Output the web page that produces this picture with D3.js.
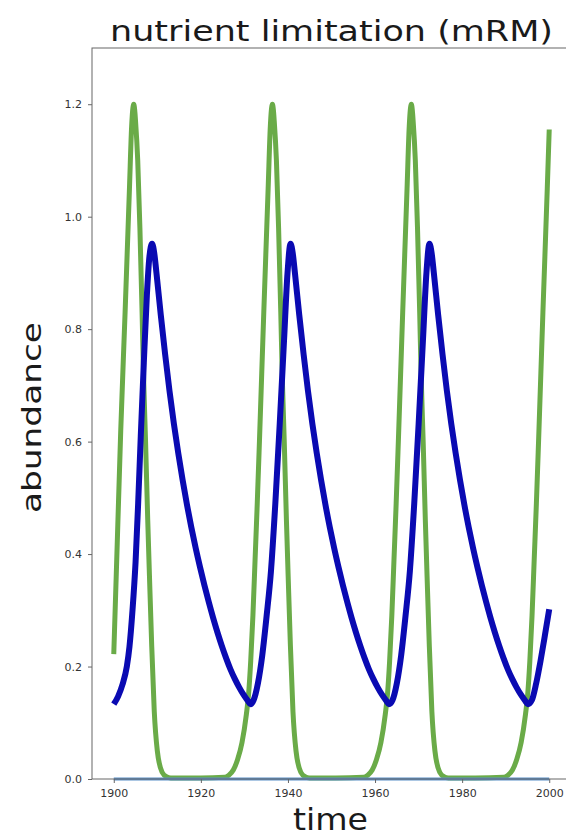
<!DOCTYPE html>
<html>
<head>
<meta charset="utf-8">
<script src="https://cdn.jsdelivr.net/npm/d3@7"></script>
<style>
  html, body { margin: 0; padding: 0; background: #fff; }
  svg { display: block; }
  text { font-family: "DejaVu Sans", sans-serif; }
</style>
</head>
<body>
<svg id="chart" width="566" height="838"></svg>
<script>
// Nutrient (green) and consumer (blue) abundance over time, mRM model run.
const nutrientYears = [
  1900.0, 1900.8, 1901.6, 1902.6, 1903.6, 1904.1, 1904.35, 1904.6, 1904.8, 1905.0, 1905.5, 1906.0,
  1906.5, 1906.9, 1907.3, 1907.8, 1908.2, 1908.7, 1909.3, 1910.0, 1911.1, 1912.1,
  1913.1, 1920.0,
  1925.45, 1926.45, 1927.45, 1928.45, 1929.45, 1930.45, 1930.95, 1931.45, 1931.95, 1932.45,
  1932.95, 1933.45, 1934.45, 1935.45, 1935.95, 1936.2, 1936.45, 1936.65, 1936.85, 1937.35, 1937.85, 1938.35,
  1938.75, 1939.15, 1939.65, 1940.05, 1940.55, 1941.15, 1941.85, 1942.95, 1943.95, 1944.95,
  1951.0,
  1957.35, 1958.35, 1959.35, 1960.35, 1961.35, 1962.35, 1962.85, 1963.35, 1963.85, 1964.35,
  1964.85, 1965.35, 1966.35, 1967.35, 1967.85, 1968.1, 1968.35, 1968.55, 1968.75, 1969.25, 1969.75, 1970.25,
  1970.65, 1971.05, 1971.55, 1971.95, 1972.45, 1973.05, 1973.75, 1974.85, 1975.85, 1976.85,
  1983.0,
  1989.55, 1990.55, 1991.55, 1992.55, 1993.55, 1994.55, 1995.05, 1995.55, 1996.05, 1996.55,
  1997.05, 1997.55, 1998.55, 1999.55, 2000.0
];
const nutrientValues = [
  0.222, 0.42, 0.62, 0.83, 1.05, 1.16, 1.19, 1.20, 1.19, 1.17, 1.10, 0.98,
  0.83, 0.70, 0.60, 0.46, 0.36, 0.24, 0.12, 0.05, 0.012, 0.004,
  0.002, 0.002,
  0.003, 0.007, 0.016, 0.035, 0.065, 0.115, 0.15, 0.21, 0.29, 0.39,
  0.49, 0.60, 0.83, 1.05, 1.16, 1.19, 1.20, 1.19, 1.17, 1.10, 0.98, 0.83,
  0.70, 0.60, 0.46, 0.36, 0.24, 0.12, 0.05, 0.012, 0.004, 0.002,
  0.002,
  0.003, 0.007, 0.016, 0.035, 0.065, 0.115, 0.15, 0.21, 0.29, 0.39,
  0.49, 0.60, 0.83, 1.05, 1.16, 1.19, 1.20, 1.19, 1.17, 1.10, 0.98, 0.83,
  0.70, 0.60, 0.46, 0.36, 0.24, 0.12, 0.05, 0.012, 0.004, 0.002,
  0.002,
  0.003, 0.007, 0.016, 0.035, 0.065, 0.115, 0.15, 0.21, 0.29, 0.39,
  0.49, 0.60, 0.83, 1.05, 1.155
];

const consumerYears = [
  1900.0, 1901.0, 1902.0, 1903.0, 1903.6, 1904.3, 1905.0, 1905.6, 1906.2, 1906.9,
  1907.6, 1908.2, 1908.8, 1909.3, 1909.8, 1910.8, 1911.8, 1912.8, 1913.8, 1914.8,
  1915.8, 1916.8, 1917.8, 1918.8, 1919.8, 1920.8, 1921.8, 1922.8, 1923.8, 1924.8,
  1925.8, 1926.8, 1927.8, 1928.8, 1929.8, 1930.8, 1931.4,
  1932.1, 1933.1, 1934.1, 1935.1, 1936.1, 1937.1, 1938.1, 1939.1, 1939.9, 1940.6,
  1941.1, 1941.6, 1942.6, 1943.6, 1944.6, 1945.6, 1946.6, 1947.6, 1948.6, 1949.6,
  1950.6, 1951.6, 1952.6, 1953.6, 1954.6, 1955.6, 1956.6, 1957.6, 1958.6, 1959.6,
  1960.6, 1961.6, 1962.6, 1963.2,
  1964.0, 1965.0, 1966.0, 1967.0, 1968.0, 1969.0, 1970.0, 1971.0, 1971.8, 1972.5,
  1973.0, 1973.5, 1974.5, 1975.5, 1976.5, 1977.5, 1978.5, 1979.5, 1980.5, 1981.5,
  1982.5, 1983.5, 1984.5, 1985.5, 1986.5, 1987.5, 1988.5, 1989.5, 1990.5, 1991.5,
  1992.5, 1993.5, 1994.5, 1995.1,
  1996.0, 1997.0, 1998.0, 1999.0, 2000.0
];
const consumerValues = [
  0.133, 0.147, 0.168, 0.20, 0.235, 0.30, 0.385, 0.49, 0.61, 0.74,
  0.86, 0.93, 0.952, 0.935, 0.90, 0.825, 0.755, 0.69, 0.632, 0.58,
  0.532, 0.488, 0.448, 0.411, 0.377, 0.345, 0.315, 0.287, 0.261, 0.237,
  0.215, 0.195, 0.178, 0.163, 0.150, 0.139, 0.133,
  0.14, 0.17, 0.22, 0.29, 0.37, 0.49, 0.63, 0.78, 0.90, 0.952,
  0.935, 0.90, 0.825, 0.755, 0.69, 0.632, 0.58, 0.532, 0.488, 0.448,
  0.411, 0.377, 0.345, 0.315, 0.287, 0.261, 0.237, 0.215, 0.195, 0.178,
  0.163, 0.150, 0.139, 0.133,
  0.14, 0.17, 0.22, 0.29, 0.37, 0.49, 0.63, 0.78, 0.90, 0.952,
  0.935, 0.90, 0.825, 0.755, 0.69, 0.632, 0.58, 0.532, 0.488, 0.448,
  0.411, 0.377, 0.345, 0.315, 0.287, 0.261, 0.237, 0.215, 0.195, 0.178,
  0.163, 0.150, 0.139, 0.133,
  0.14, 0.17, 0.21, 0.255, 0.302
];

// Third species stays extinct for the whole run.
const extinctYears = [1900, 2000];
const extinctValues = [0, 0];

const xTicks = [1900, 1920, 1940, 1960, 1980, 2000];
const yTicks = [0.0, 0.2, 0.4, 0.6, 0.8, 1.0, 1.2];

const titleText = "nutrient limitation (mRM)";
const xLabel = "time";
const yLabel = "abundance";

const svg = d3.select("#chart");
const plot = { left: 92, right: 571, top: 48, bottom: 779 };

const x = d3.scaleLinear().domain([1895, 2005]).range([plot.left, plot.right]);
const y = d3.scaleLinear().domain([0, 1.3]).range([plot.bottom, plot.top]);

const zip = (xs, ys) => xs.map((t, i) => ({ t, v: ys[i] }));

const line = d3.line()
  .x(d => x(d.t))
  .y(d => y(d.v))
  .curve(d3.curveMonotoneX);

const lines = svg.append("g");
lines.append("path")
  .datum(zip(nutrientYears, nutrientValues))
  .attr("d", line)
  .attr("fill", "none")
  .attr("stroke", "#6aab48")
  .attr("stroke-width", 5)
  .attr("stroke-linejoin", "round");

lines.append("path")
  .datum(zip(consumerYears, consumerValues))
  .attr("d", line)
  .attr("fill", "none")
  .attr("stroke", "#0a0ab2")
  .attr("stroke-width", 6)
  .attr("stroke-linejoin", "round")
  .attr("stroke-linecap", "butt");

lines.append("path")
  .datum(zip(extinctYears, extinctValues))
  .attr("d", line)
  .attr("fill", "none")
  .attr("stroke", "#5a8fc8")
  .attr("stroke-width", 3);

// Frame
svg.append("rect")
  .attr("x", plot.left).attr("y", plot.top)
  .attr("width", plot.right - plot.left)
  .attr("height", plot.bottom - plot.top)
  .attr("fill", "none")
  .attr("stroke", "#666")
  .attr("stroke-width", 1);

// Axes
const yAxis = d3.axisLeft(y).tickValues(yTicks).tickFormat(d3.format(".1f"))
  .tickSize(4).tickPadding(6);
const gy = svg.append("g").attr("transform", `translate(${plot.left},0)`).call(yAxis);

const xAxis = d3.axisBottom(x).tickValues(xTicks).tickFormat(d3.format("d"))
  .tickSize(4).tickPadding(6);
const gx = svg.append("g").attr("transform", `translate(0,${plot.bottom})`).call(xAxis);

[gx, gy].forEach(g => {
  g.select(".domain").remove();
  g.selectAll(".tick line").attr("stroke", "#666");
  g.selectAll(".tick text")
    .attr("fill", "#333")
    .style("font-family", "'DejaVu Sans', sans-serif")
    .style("font-size", "11px");
});

// Title and axis labels
svg.append("text")
  .attr("x", 110).attr("y", 41)
  .attr("textLength", 443).attr("lengthAdjust", "spacingAndGlyphs")
  .attr("fill", "#1a1a1a")
  .style("font-size", "28px")
  .text(titleText);

svg.append("text")
  .attr("transform", "translate(41,513) rotate(-90)")
  .attr("textLength", 191).attr("lengthAdjust", "spacingAndGlyphs")
  .attr("fill", "#1a1a1a")
  .style("font-size", "27px")
  .text(yLabel);

svg.append("text")
  .attr("x", 293).attr("y", 830)
  .attr("textLength", 75).attr("lengthAdjust", "spacingAndGlyphs")
  .attr("fill", "#1a1a1a")
  .style("font-size", "30px")
  .text(xLabel);
</script>
</body>
</html>
